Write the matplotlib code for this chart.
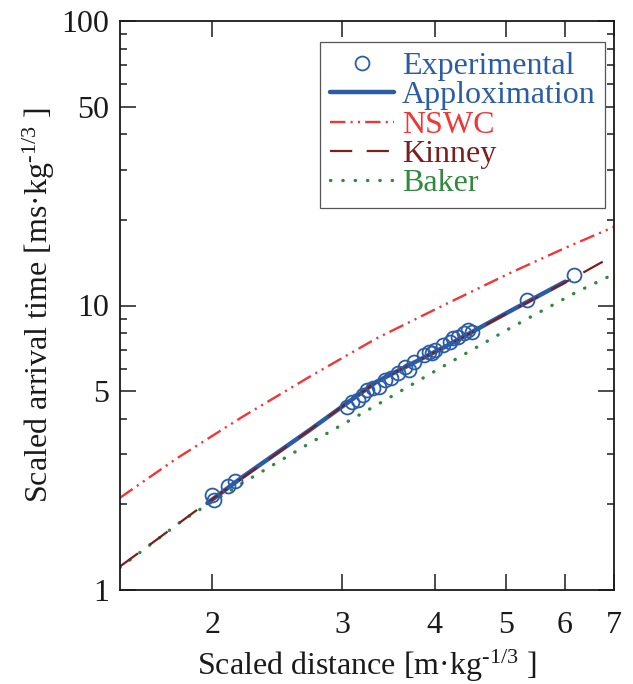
import matplotlib
matplotlib.use("Agg")
import matplotlib.pyplot as plt
from matplotlib.ticker import FixedLocator, NullFormatter, NullLocator

plt.rcParams['font.family'] = ['Liberation Serif', 'DejaVu Serif']
plt.rcParams['mathtext.fontset'] = 'custom'
plt.rcParams['mathtext.rm'] = 'Liberation Serif'
plt.rcParams['mathtext.default'] = 'regular'

# experimental points
exp_x = [2.00, 2.01, 2.10, 2.15, 3.04, 3.09, 3.15, 3.20, 3.24, 3.30, 3.36, 3.43,
         3.49, 3.57, 3.65, 3.69, 3.75, 3.87, 3.93, 3.97, 4.01, 4.11, 4.20, 4.24,
         4.31, 4.38, 4.44, 4.49, 5.34, 6.17]
exp_y = [2.16, 2.07, 2.32, 2.42, 4.41, 4.59, 4.65, 4.85, 5.05, 5.12, 5.18, 5.47,
         5.55, 5.78, 6.10, 5.93, 6.35, 6.70, 6.88, 6.79, 6.98, 7.26, 7.46, 7.67,
         7.77, 7.98, 8.20, 8.09, 10.45, 12.80]

# approximation curve
app_x = [1.97, 2.20, 2.71, 3.34, 4.14, 5.06, 6.01]
app_y = [2.02, 2.50, 3.65, 5.40, 7.18, 9.55, 12.13]

# NSWC
nswc_x = [1.50, 1.79, 2.20, 2.71, 3.34, 4.14, 5.06, 6.00, 7.00]
nswc_y = [2.11, 2.90, 4.07, 5.62, 7.67, 10.1, 13.0, 15.9, 18.9]

# Kinney
kin_x = [1.50, 1.68, 1.89, 2.20, 2.71, 3.34, 4.14, 5.06, 6.24, 7.00]
kin_y = [1.21, 1.50, 1.88, 2.48, 3.65, 5.40, 7.17, 9.51, 12.70, 15.0]

# Baker
bak_x = [1.50, 1.83, 2.20, 2.71, 3.34, 4.14, 5.06, 6.24, 7.00]
bak_y = [1.20, 1.77, 2.38, 3.28, 4.47, 6.18, 8.32, 11.18, 12.9]

blue = '#2b5ca8'
red = '#f23535'
darkred = '#7b1e1e'
green = '#2f8a3f'
ink = '#1a1a1a'

fig = plt.figure(figsize=(6.33, 6.84), dpi=100)
ax = fig.add_axes([120/633, 1-590/684, 494/633, 569/684])

ax.plot(nswc_x, nswc_y, color=red, lw=1.7, ls=(0, (6.5, 2.2, 0.9, 2.2, 0.9, 2.2)), label='NSWC')
ax.plot(bak_x, bak_y, color=green, lw=2.4, ls=(0, (0.1, 3.6)), dash_capstyle='round', label='Baker')
ax.plot(app_x, app_y, color=blue, lw=3.2, solid_capstyle='round', label='Apploximation')
ax.plot(kin_x, kin_y, color=darkred, lw=1.6, ls=(0, (10, 6.5)), label='Kinney')
ax.plot(exp_x, exp_y, ls='none', marker='o', ms=10, mfc='none', mec=blue, mew=1.3,
        label='Experimental')

ax.set_xscale('log')
ax.set_yscale('log')
ax.set_xlim(1.5, 7)
ax.set_ylim(1, 100)

ax.xaxis.set_major_locator(FixedLocator([2, 3, 4, 5, 6, 7]))
ax.xaxis.set_minor_locator(NullLocator())
ax.set_xticklabels(['2', '3', '4', '5', '6', '7'])

ax.yaxis.set_major_locator(FixedLocator([1, 5, 10, 50, 100]))
ax.set_yticklabels(['1', '5', '10', '50', '100'])
minor_y = [2, 3, 4, 6, 7, 8, 9, 20, 30, 40, 60, 70, 80, 90]
ax.yaxis.set_minor_locator(FixedLocator(minor_y))
ax.yaxis.set_minor_formatter(NullFormatter())

ax.tick_params(which='both', direction='in', top=True, right=True, width=1.1,
               labelsize=23, colors=ink)
ax.tick_params(which='major', length=11.5)
ax.tick_params(which='minor', length=5)
ax.tick_params(axis='x', pad=15)
ax.tick_params(axis='y', pad=8)
for s in ax.spines.values():
    s.set_linewidth(1.3)
    s.set_color(ink)

ax.set_xlabel('Scaled distance [m\u00b7kg$^{\u20101/3}$ ]', fontsize=23, labelpad=6, color=ink)
ax.set_ylabel('Scaled arrival time [ms\u00b7kg$^{\u20101/3}$ ]', fontsize=23, labelpad=3, color=ink)

h, l = ax.get_legend_handles_labels()
order = [4, 2, 0, 3, 1]
leg = ax.legend([h[i] for i in order], [l[i] for i in order], loc='upper right',
                bbox_to_anchor=(0.982, 0.963), borderaxespad=0, fontsize=23,
                frameon=True, fancybox=False, framealpha=1, edgecolor='#555555',
                handlelength=2.0, handletextpad=0.25, labelspacing=0.0,
                borderpad=0.3, numpoints=1)
leg.get_frame().set_linewidth(0.9)
text_colors = [blue, blue, red, darkred, green]
for t, c in zip(leg.get_texts(), text_colors):
    t.set_color(c)

fig.savefig('out.png', dpi=100)
